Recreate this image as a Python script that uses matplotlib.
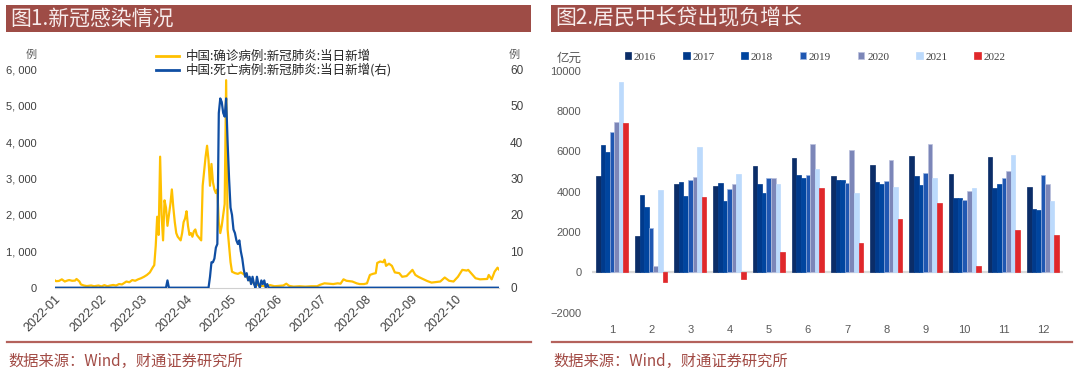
import matplotlib
matplotlib.use('Agg')
import matplotlib.pyplot as plt
import matplotlib.dates as mdates
from matplotlib.patches import Rectangle, Patch
from matplotlib.lines import Line2D
import numpy as np
import pandas as pd

CJK = ['Noto Sans CJK SC', 'DejaVu Sans']
plt.rcParams['font.family'] = ['Liberation Sans', 'Noto Sans CJK SC']

# ---- 图1 数据：新增确诊（左轴）与新增死亡（右轴）----
conf_dates = ['01-01', '01-02', '01-04', '01-06', '01-08', '01-10', '01-11', '01-13', '01-15', '01-16',
              '01-18', '01-19', '01-21', '01-23', '01-26', '01-28', '01-31', '02-02', '02-04', '02-06',
              '02-08', '02-10', '02-12', '02-14', '02-16', '02-19', '02-21', '02-23', '02-25', '02-27',
              '03-01', '03-03', '03-05', '03-07', '03-08', '03-09', '03-10', '03-11', '03-12', '03-13',
              '03-14', '03-15', '03-16', '03-17', '03-18', '03-19', '03-20', '03-21', '03-22', '03-23',
              '03-24', '03-25', '03-26', '03-27', '03-28', '03-29', '03-30', '03-31', '04-01', '04-02',
              '04-03', '04-04', '04-05', '04-06', '04-07', '04-08', '04-09', '04-10', '04-11', '04-12',
              '04-13', '04-14', '04-15', '04-16', '04-17', '04-18', '04-19', '04-20', '04-21', '04-22',
              '04-23', '04-24', '04-25', '04-26', '04-27', '04-28', '04-29', '04-30', '05-01', '05-02',
              '05-04', '05-06', '05-08', '05-10', '05-12', '05-14', '05-16', '05-18', '05-20', '05-22',
              '05-25', '05-28', '05-31', '06-03', '06-06', '06-08', '06-10', '06-13', '06-17', '06-21',
              '06-25', '06-29', '07-01', '07-04', '07-07', '07-10', '07-13', '07-15', '07-17', '07-19',
              '07-21', '07-23', '07-26', '07-28', '07-31', '08-02', '08-04', '08-06', '08-08', '08-09',
              '08-11', '08-13', '08-14', '08-15', '08-17', '08-19', '08-21', '08-24', '08-26', '08-29',
              '09-02', '09-04', '09-06', '09-08', '09-12', '09-15', '09-21', '09-24', '09-27', '09-30',
              '10-03', '10-06', '10-09', '10-10', '10-13', '10-15', '10-18', '10-23', '10-24', '10-26',
              '10-28', '10-30', '10-31']
conf_vals = [210, 180, 185, 230, 170, 200, 210, 190, 195, 240,
             170, 90, 60, 45, 60, 40, 60, 35, 70, 40,
             60, 75, 60, 100, 90, 170, 150, 210, 190, 230,
             260, 300, 350, 420, 490, 560, 620, 1150, 1950, 1450,
             3600, 2000, 1300, 2400, 2200, 1700, 2000, 2300, 2700, 2200,
             1800, 1500, 1400, 1350, 1300, 1500, 1800, 1900, 2100, 1700,
             1450, 1500, 1400, 1550, 1600, 1450, 1400, 1350, 1300, 2800,
             3200, 3600, 3900, 3500, 2800, 3400, 2900, 2700, 2600, 2700,
             1800, 1500, 1700, 2000, 2300, 5700, 1600, 1150, 700, 440,
             400, 380, 420, 370, 300, 200, 150, 100, 70, 50,
             40, 70, 40, 50, 60, 110, 50, 30, 40, 30,
             40, 40, 80, 120, 110, 100, 120, 110, 230, 190,
             180, 170, 120, 100, 100, 120, 350, 380, 400, 680,
             720, 700, 770, 600, 660, 600, 420, 400, 300, 320,
             490, 350, 300, 260, 185, 140, 170, 280, 190, 170,
             300, 490, 470, 490, 350, 260, 230, 240, 350, 230,
             440, 550, 500]

death_dates = ['01-01', '03-18', '03-19', '03-20', '04-16', '04-17', '04-18', '04-19', '04-20', '04-21',
               '04-22', '04-23', '04-24', '04-25', '04-26', '04-27', '04-28', '04-29', '04-30', '05-01',
               '05-02', '05-03', '05-04', '05-05', '05-06', '05-07', '05-08', '05-09', '05-10', '05-11',
               '05-12', '05-13', '05-14', '05-15', '05-16', '05-17', '05-18', '05-19', '05-20', '05-21',
               '05-22', '05-23', '05-24', '05-25', '05-26', '05-27', '10-31']
death_vals = [0, 0, 2, 0, 0, 3, 7, 7, 8, 11,
              12, 48, 52, 51, 48, 47, 52, 40, 30, 22,
              20, 16, 15, 13, 12, 13, 10, 8, 5, 3,
              4, 2, 3, 1, 3, 1, 0, 3, 1, 0,
              2, 1, 2, 0, 1, 0, 0]

conf_label = '中国:确诊病例:新冠肺炎:当日新增'
death_label = '中国:死亡病例:新冠肺炎:当日新增(右)'

# ---- 图2 数据：居民中长贷（亿元）----
months = list(range(1, 13))
years = ['2016', '2017', '2018', '2019', '2020', '2021', '2022']
loan_2016 = [4800, 1820, 4400, 4290, 5280, 5660, 4790, 5310, 5760, 4900, 5730, 4220]
loan_2017 = [6300, 3830, 4500, 4440, 4360, 4850, 4570, 4470, 4790, 3710, 4190, 3130]
loan_2018 = [5950, 3220, 3800, 3550, 3940, 4670, 4590, 4400, 4320, 3710, 4400, 3100]
loan_2019 = [6970, 2210, 4600, 4140, 4690, 4850, 4420, 4550, 4920, 3580, 4670, 4830]
loan_2020 = [7480, 330, 4740, 4390, 4670, 6350, 6090, 5580, 6350, 4040, 5050, 4400]
loan_2021 = [9440, 4100, 6220, 4900, 4400, 5120, 3940, 4240, 4670, 4170, 5810, 3550]
loan_2022 = [7400, -460, 3730, -330, 1020, 4160, 1450, 2640, 3450, 300, 2080, 1860]
loans = [loan_2016, loan_2017, loan_2018, loan_2019, loan_2020, loan_2021, loan_2022]

bar_colors = ['#0b2d68', '#003a8c', '#00459f', '#1f57b2', '#7c86b8', '#bcdafc', '#e0282b']
bar_edges = ['#0b2d68', '#003a8c', '#00459f', '#9bb3df', '#b9c0dd', '#bcdafc', '#e0282b']

W, H = 1080, 375


def fx(px):
    return px / W


def fy(py):
    return 1 - py / H


fig = plt.figure(figsize=(10.8, 3.75), dpi=100)

banner = '#9e4c46'
line_red = '#b4625c'
src_color = '#a24b45'

# 标题条、分隔线、来源
for x0, x1, title in [(6, 531, '图1.新冠感染情况'), (551, 1072, '图2.居民中长贷出现负增长')]:
    fig.add_artist(Rectangle((fx(x0), fy(32)), fx(x1) - fx(x0), fy(5) - fy(32),
                             transform=fig.transFigure, facecolor=banner, edgecolor='none'))
    fig.text(fx(x0 + 4), fy(18.5), title, color='#f7ecec', fontsize=15, family=CJK,
             va='center', ha='left')
    fig.add_artist(Line2D([fx(x0 + 1), fx(x1)], [fy(342), fy(342)], transform=fig.transFigure,
                          color=line_red, lw=1.6))
    fig.text(fx(x0 + 2), fy(361), '数据来源：Wind，财通证券研究所', color=src_color,
             fontsize=11, family=CJK, va='center', ha='left')

# ---------------- 图1 ----------------
cd = pd.to_datetime(['2022-' + d for d in conf_dates])
dd = pd.to_datetime(['2022-' + d for d in death_dates])

ax1 = fig.add_axes([fx(54.5), fy(287.7), fx(499) - fx(54.5), fy(69.3) - fy(287.7)])
ax2 = ax1.twinx()
ax1.plot(cd, conf_vals, color='#ffc000', lw=1.6)
ax2.plot(dd, death_vals, color='#0f4ea3', lw=1.6)

ax1.set_xlim(pd.Timestamp('2022-01-01'), pd.Timestamp('2022-10-31'))
ax1.set_ylim(0, 6000)
ax2.set_ylim(0, 60)
ax1.set_yticks(np.arange(0, 6001, 1000))
ax1.set_yticklabels(['0' if v == 0 else f'{v // 1000}, 000' for v in range(0, 6001, 1000)])
ax2.set_yticks(np.arange(0, 61, 10))
ax1.xaxis.set_major_locator(mdates.MonthLocator())
ax1.xaxis.set_major_formatter(mdates.DateFormatter('%Y-%m'))
for a in (ax1, ax2):
    for s in a.spines.values():
        s.set_visible(False)
    a.tick_params(length=0, colors='#404040', labelsize=8.5)
ax1.spines['bottom'].set_visible(True)
ax1.spines['bottom'].set_color('#d0d0d0')
ax1.tick_params(axis='y', pad=13, labelsize=8)
ax2.tick_params(axis='y', pad=8)
ax1.tick_params(axis='x', pad=4)
plt.setp(ax1.get_xticklabels(), rotation=45, ha='right', rotation_mode='anchor', fontsize=9)

fig.text(fx(26), fy(55), '例', color='#595959', fontsize=8, family=CJK, ha='left', va='center')
fig.text(fx(509), fy(55), '例', color='#595959', fontsize=8, family=CJK, ha='left', va='center')

handles = [Line2D([0], [0], color='#ffc000', lw=2), Line2D([0], [0], color='#0f4ea3', lw=2)]
fig.legend(handles, [conf_label, death_label], loc='upper left',
           bbox_to_anchor=(fx(150), fy(44)), bbox_transform=fig.transFigure,
           frameon=False, prop={'family': CJK, 'size': 9}, handlelength=1.85,
           handletextpad=0.5, labelspacing=0.0, borderpad=0, labelcolor='#262626')

# ---------------- 图2 ----------------
ax3 = fig.add_axes([fx(592.4), fy(312.7), fx(1062.6) - fx(592.4), fy(70.7) - fy(312.7)])
x = np.array(months)
bw = 0.117
for i, (yr, vals) in enumerate(zip(years, loans)):
    ax3.bar(x + (i - 3) * bw, vals, width=bw, color=bar_colors[i], edgecolor=bar_edges[i],
            linewidth=0.5, label=yr, zorder=2)
ax3.axhline(0, color='#d9d9d9', lw=1.6, zorder=1)
ax3.set_xlim(0.5, 12.5)
ax3.set_ylim(-2000, 10000)
ax3.set_yticks(np.arange(-2000, 10001, 2000))
ax3.set_xticks(x)
for s in ax3.spines.values():
    s.set_visible(False)
ax3.tick_params(length=0, colors='#595959', labelsize=8)
ax3.tick_params(axis='x', pad=9)
ax3.tick_params(axis='y', pad=8)

fig.text(fx(557), fy(58), '亿元', color='#595959', fontsize=9, family=CJK, style='italic',
         ha='left', va='center')

leg_handles = [Patch(facecolor=c, edgecolor=e, linewidth=0.5) for c, e in zip(bar_colors, bar_edges)]
ax3.legend(leg_handles, years, ncol=7, loc='center left',
           bbox_to_anchor=(fx(619), fy(57)), bbox_transform=fig.transFigure,
           frameon=False, prop={'family': 'Liberation Serif', 'size': 8},
           handlelength=0.6, handleheight=0.6, handletextpad=0.25, columnspacing=2.4,
           borderpad=0, labelcolor='#404040')

fig.savefig('out.png', dpi=100)
